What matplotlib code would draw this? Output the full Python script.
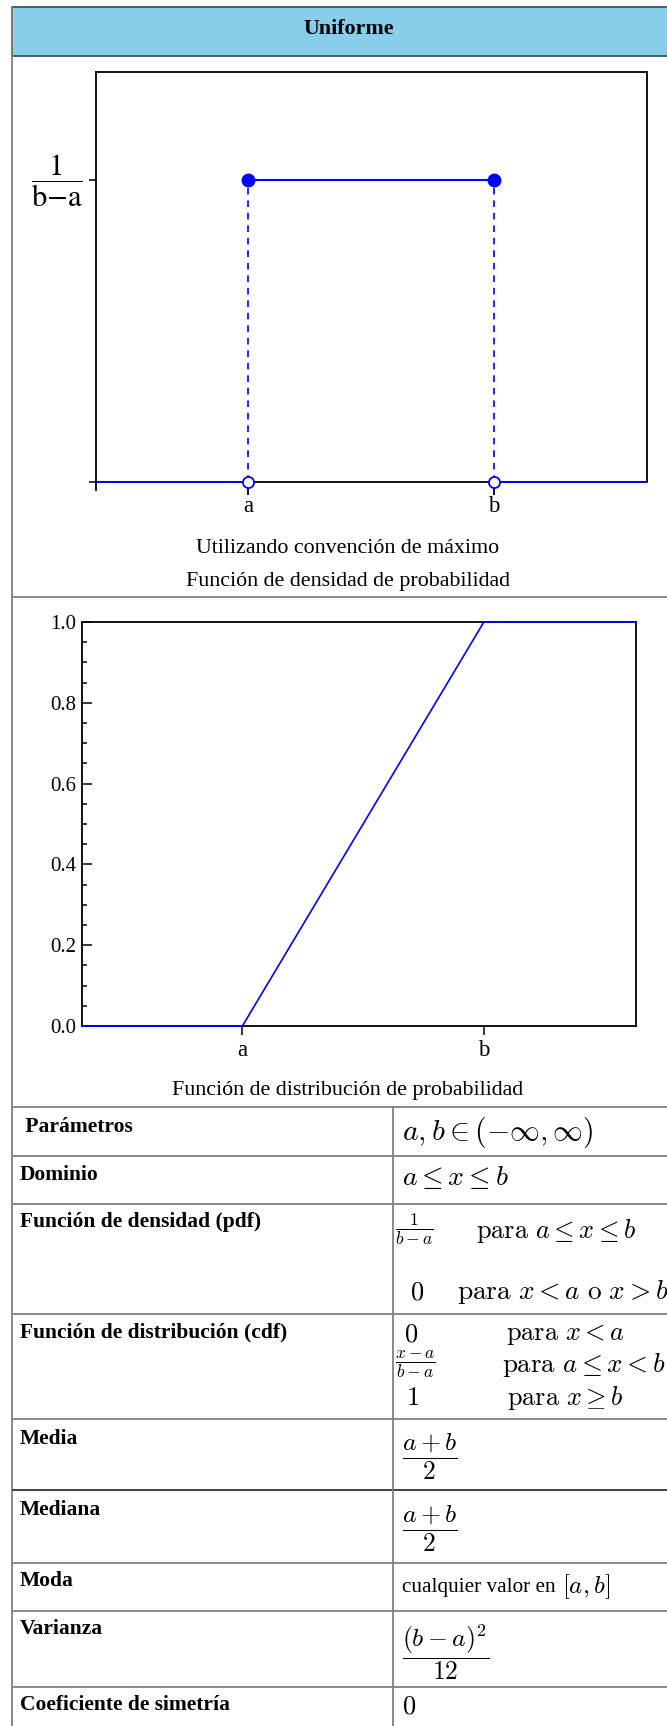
import numpy as np
import matplotlib.pyplot as plt
from matplotlib.patches import Rectangle
from matplotlib.ticker import MultipleLocator

# uniform distribution on [a, b]
a, b = 1.0, 3.0
density = 1.0 / (b - a)

# pdf: flat top between a and b, zero outside
pdf_top_x = [a, b]
pdf_top_y = [density, density]

# cdf: 0 before a, linear ramp, 1 after b
cdf_y = [0.0, 0.0, 1.0, 1.0]
cdf_yticks = [0.0, 0.2, 0.4, 0.6, 0.8, 1.0]
cdf_yticklabels = ['0.0', '0.2', '0.4', '0.6', '0.8', '1.0']
x_ticklabels = ['a', 'b']

title = 'Uniforme'
pdf_captions = ['Utilizando convención de máximo',
                'Función de densidad de probabilidad']
cdf_caption = 'Función de distribución de probabilidad'

row_labels = [' Parámetros', 'Dominio', 'Función de densidad (pdf)',
              'Función de distribución (cdf)', 'Media', 'Mediana', 'Moda',
              'Varianza', 'Coeficiente de simetría']

W, H = 667, 1726
SERIF = 'Liberation Serif'
BLUE = '#0000ff'
GRID = '#808080'

fig = plt.figure(figsize=(W / 100, H / 100), dpi=100)

# full-figure axes in pixel units for the infobox frame and text
bg = fig.add_axes([0, 0, 1, 1])
bg.set_xlim(0, W)
bg.set_ylim(H, 0)
bg.axis('off')


def px_axes(left, top, right, bottom):
    return fig.add_axes([left / W, 1 - bottom / H,
                         (right - left) / W, (bottom - top) / H])


def hline(y, color=GRID, lw=1.3, x0=11.5, x1=W + 20):
    bg.plot([x0, x1], [y, y], color=color, lw=lw, solid_capstyle='butt')


# header band
bg.add_patch(Rectangle((11.5, 7.5), W + 20, 48.5, facecolor='#87ceeb',
                       edgecolor='#3b5661', lw=1.3))
bg.text(349, 34, title, ha='center', va='baseline', fontsize=15.8,
        fontweight='bold', family=SERIF)

# outer frame and separators
bg.plot([11.5, 11.5], [7.5, H], color=GRID, lw=1.3)
hline(597.5)
hline(1107)
row_edges = [1107, 1156, 1204, 1314, 1419, 1490, 1563, 1610.5, 1687]
for y in row_edges[1:]:
    hline(y, color='#333333' if y == 1490 else GRID)
bg.plot([393, 393], [1107, H], color=GRID, lw=1.3)

# ---- density plot ----
ax = px_axes(95.5, 72, 646.5, 490)
ytop = density * (482 - 72) / (482 - 180.4)
ybot = -density * 8 / (482 - 180.4)
x_lo = a - 0.62 * (b - a)
x_hi = b + 0.62 * (b - a)
ax.set_xlim(x_lo, x_hi)
ax.set_ylim(ybot, ytop)
for s in ax.spines.values():
    s.set_linewidth(1.3)
ax.spines['bottom'].set_visible(False)
ax.spines['right'].set_bounds(0, ytop)
ax.axhline(0, color='black', lw=1.3, zorder=1)

ax.plot([x_lo, a], [0, 0], color=BLUE, lw=1.2, zorder=3)
ax.plot([b, x_hi], [0, 0], color=BLUE, lw=1.2, zorder=3)
ax.plot(pdf_top_x, pdf_top_y, color=BLUE, lw=1.5, zorder=3)
for xv in pdf_top_x:
    ax.plot([xv, xv], [0, density], color=BLUE, lw=1.2, dashes=(4, 3.5),
            zorder=2)
ax.plot(pdf_top_x, pdf_top_y, 'o', color=BLUE, ms=9, zorder=4)
ax.plot(pdf_top_x, [0, 0], 'o', mfc='white', mec=BLUE, mew=1.3, ms=8,
        zorder=4, clip_on=False)

ax.set_xticks(pdf_top_x, x_ticklabels, family=SERIF, fontsize=16.5)
ax.tick_params(axis='x', direction='inout', length=7, width=1.3, pad=1)
ax.set_yticks([0, density], ['', r'$\dfrac{1}{\mathrm{b{-}a}}$'])
ax.tick_params(axis='y', direction='out', length=5, width=1.1, pad=4)
for lab in ax.get_yticklabels():
    lab.set_math_fontfamily('stix')
    lab.set_fontsize(22)
    lab.set_va('center')

for text, y in zip(pdf_captions, [548, 581.5]):
    bg.text(348, y, text, ha='center', va='center', fontsize=15.8,
            family=SERIF)

# ---- distribution plot ----
cx = px_axes(82.3, 622, 636, 1026)
cx_lo = a - 0.663 * (b - a)
cx_hi = b + 0.63 * (b - a)
cx.set_xlim(cx_lo, cx_hi)
cx.set_ylim(0, 1)
for s in cx.spines.values():
    s.set_linewidth(1.3)
cx.plot([cx_lo, a, b, cx_hi], cdf_y, color=BLUE, lw=1.2, clip_on=False,
        zorder=3)
cx.set_xticks([a, b], x_ticklabels, family=SERIF, fontsize=16.5)
cx.tick_params(axis='x', direction='out', length=6.5, width=1.1, pad=3.5)
cx.set_yticks(cdf_yticks, cdf_yticklabels, family=SERIF, fontsize=15)
cx.yaxis.set_minor_locator(MultipleLocator(0.05))
cx.tick_params(axis='y', which='major', direction='in', length=7, width=1.1,
               pad=4.5)
cx.tick_params(axis='y', which='minor', direction='in', length=3.5, width=1.1)

bg.text(348, 1090, cdf_caption, ha='center', va='center', fontsize=15.8,
        family=SERIF)

# ---- parameter table ----
label_y = [1127, 1174.6, 1221.8, 1332.3, 1438.5, 1510.4, 1581, 1629, 1704.8]
for text, y in zip(row_labels, label_y):
    bg.text(20, y, text, ha='left', va='center', fontsize=15.5,
            fontweight='bold', family=SERIF)


def mtext(x, y, s, size=19):
    bg.text(x, y, s, ha='left', va='center', fontsize=size,
            math_fontfamily='cm')


mtext(402, 1132, r'$a, b \in (-\infty, \infty)$', 21.5)
mtext(402, 1177, r'$a \leq x \leq b$', 20)
mtext(395, 1229, r'$\frac{1}{b-a}$', 18)
mtext(476, 1231, r'$\mathrm{para}\ a \leq x \leq b$')
mtext(410, 1292, r'$0$')
mtext(457, 1292, r'$\mathrm{para}\ x < a\ \mathrm{o}\ x > b$', 19.7)
mtext(404, 1334, r'$0$')
mtext(506, 1334, r'$\mathrm{para}\ x < a$')
mtext(395, 1365, r'$\frac{x-a}{b-a}$', 18)
mtext(502, 1365, r'$\mathrm{para}\ a \leq x < b$', 19.4)
mtext(406, 1398, r'$1$')
mtext(507, 1398, r'$\mathrm{para}\ x \geq b$')
mtext(402, 1457, r'$\dfrac{a+b}{2}$', 18.5)
mtext(402, 1529, r'$\dfrac{a+b}{2}$', 18.5)
bg.text(401.7, 1587, 'cualquier valor en', ha='left', va='center',
        fontsize=15.3, family=SERIF)
mtext(562, 1587, r'$[a, b]$', 18)
mtext(402, 1652, r'$\dfrac{(b-a)^2}{12}$', 18.5)
mtext(402, 1706, r'$0$')

fig.savefig('out.png', dpi=100)
